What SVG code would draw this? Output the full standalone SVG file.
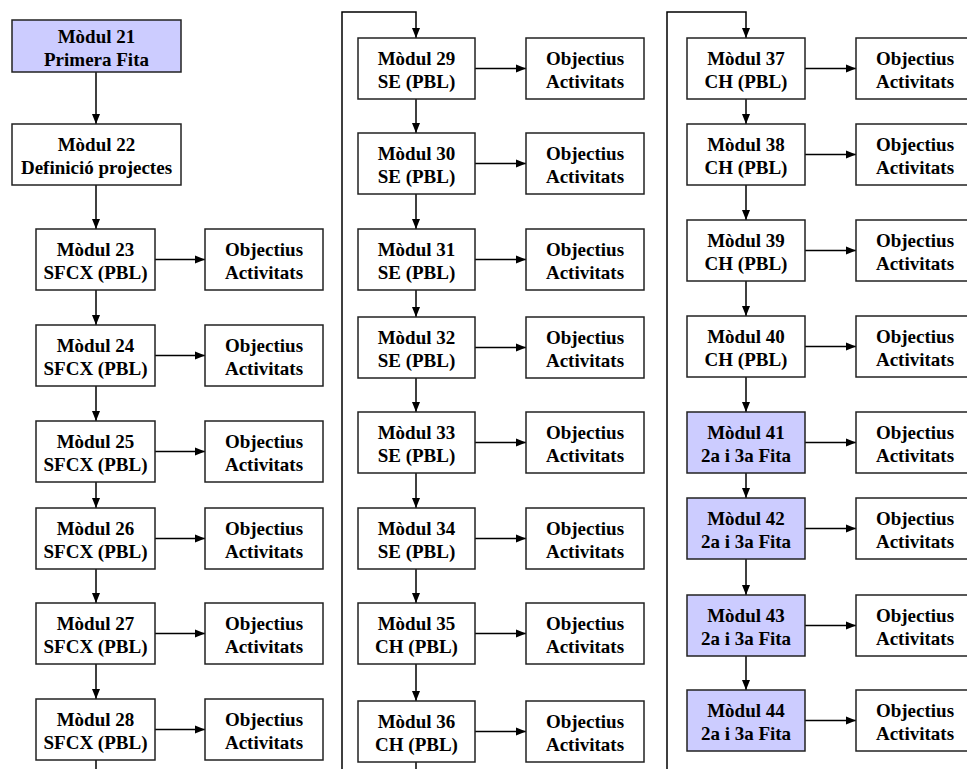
<svg xmlns="http://www.w3.org/2000/svg" width="967" height="769" viewBox="0 0 967 769">
<defs>
<style>
.box{fill:#fff;stroke:#222;stroke-width:1.5}
.fita{fill:#ccccff;stroke:#222;stroke-width:1.5}
.t{font-family:"Liberation Serif","Times New Roman",serif;font-weight:bold;font-size:19px;text-anchor:middle;fill:#000}
.c{fill:none;stroke:#000;stroke-width:1.5}
.a{marker-end:url(#arr)}
</style>
<marker id="arr" markerUnits="userSpaceOnUse" markerWidth="10" markerHeight="10" refX="10" refY="5" orient="auto">
<path d="M0,1 L10,5 L0,9 z" fill="#000"/>
</marker>
</defs>
<rect width="967" height="769" fill="#fff"/>
<g id="connectors">
<path class="c a" d="M96,72 V124"/>
<path class="c a" d="M96,185 V229"/>
<path class="c a" d="M96,290 V325"/>
<path class="c a" d="M96,386 V421"/>
<path class="c a" d="M96,482 V508"/>
<path class="c a" d="M96,569 V603"/>
<path class="c a" d="M96,664 V699"/>
<path class="c" d="M96,760 V769"/>
<path class="c a" d="M155,259.5 H205"/>
<path class="c a" d="M155,355.5 H205"/>
<path class="c a" d="M155,451.5 H205"/>
<path class="c a" d="M155,538.5 H205"/>
<path class="c a" d="M155,633.5 H205"/>
<path class="c a" d="M155,729.5 H205"/>
<path class="c a" d="M342,769 V12 H416 V38"/>
<path class="c a" d="M416,99 V133"/>
<path class="c a" d="M416,194 V229"/>
<path class="c a" d="M416,290 V317"/>
<path class="c a" d="M416,378 V412"/>
<path class="c a" d="M416,473 V508"/>
<path class="c a" d="M416,569 V603"/>
<path class="c a" d="M416,664 V701"/>
<path class="c" d="M416,762 V769"/>
<path class="c a" d="M475,68.5 H526"/>
<path class="c a" d="M475,163.5 H526"/>
<path class="c a" d="M475,259.5 H526"/>
<path class="c a" d="M475,347.5 H526"/>
<path class="c a" d="M475,442.5 H526"/>
<path class="c a" d="M475,538.5 H526"/>
<path class="c a" d="M475,633.5 H526"/>
<path class="c a" d="M475,731.5 H526"/>
<path class="c a" d="M667,769 V12 H746 V38"/>
<path class="c a" d="M746,99 V124"/>
<path class="c a" d="M746,185 V220"/>
<path class="c a" d="M746,281 V316"/>
<path class="c a" d="M746,377 V412"/>
<path class="c a" d="M746,473 V498"/>
<path class="c a" d="M746,559 V595"/>
<path class="c a" d="M746,656 V690"/>
<path class="c a" d="M805,68.5 H856"/>
<path class="c a" d="M805,154.5 H856"/>
<path class="c a" d="M805,250.5 H856"/>
<path class="c a" d="M805,346.5 H856"/>
<path class="c a" d="M805,442.5 H856"/>
<path class="c a" d="M805,528.5 H856"/>
<path class="c a" d="M805,625.5 H856"/>
<path class="c a" d="M805,720.5 H856"/>
</g>
<g id="m21"><rect class="fita" x="12" y="20" width="169" height="52"/><text class="t" x="96.5" y="43">Mòdul 21</text><text class="t" x="96.5" y="66">Primera Fita</text></g>
<g id="m22"><rect class="box" x="12" y="124" width="169" height="61"/><text class="t" x="96.5" y="151">Mòdul 22</text><text class="t" x="96.5" y="174">Definició projectes</text></g>
<g id="m23"><rect class="box" x="36" y="229" width="119" height="61"/><text class="t" x="95.5" y="255.5">Mòdul 23</text><text class="t" x="95.5" y="278.5">SFCX (PBL)</text></g>
<g id="o23"><rect class="box" x="205" y="229" width="118" height="61"/><text class="t" x="264" y="255.5">Objectius</text><text class="t" x="264" y="278.5">Activitats</text></g>
<g id="m24"><rect class="box" x="36" y="325" width="119" height="61"/><text class="t" x="95.5" y="351.5">Mòdul 24</text><text class="t" x="95.5" y="374.5">SFCX (PBL)</text></g>
<g id="o24"><rect class="box" x="205" y="325" width="118" height="61"/><text class="t" x="264" y="351.5">Objectius</text><text class="t" x="264" y="374.5">Activitats</text></g>
<g id="m25"><rect class="box" x="36" y="421" width="119" height="61"/><text class="t" x="95.5" y="447.5">Mòdul 25</text><text class="t" x="95.5" y="470.5">SFCX (PBL)</text></g>
<g id="o25"><rect class="box" x="205" y="421" width="118" height="61"/><text class="t" x="264" y="447.5">Objectius</text><text class="t" x="264" y="470.5">Activitats</text></g>
<g id="m26"><rect class="box" x="36" y="508" width="119" height="61"/><text class="t" x="95.5" y="534.5">Mòdul 26</text><text class="t" x="95.5" y="557.5">SFCX (PBL)</text></g>
<g id="o26"><rect class="box" x="205" y="508" width="118" height="61"/><text class="t" x="264" y="534.5">Objectius</text><text class="t" x="264" y="557.5">Activitats</text></g>
<g id="m27"><rect class="box" x="36" y="603" width="119" height="61"/><text class="t" x="95.5" y="629.5">Mòdul 27</text><text class="t" x="95.5" y="652.5">SFCX (PBL)</text></g>
<g id="o27"><rect class="box" x="205" y="603" width="118" height="61"/><text class="t" x="264" y="629.5">Objectius</text><text class="t" x="264" y="652.5">Activitats</text></g>
<g id="m28"><rect class="box" x="36" y="699" width="119" height="61"/><text class="t" x="95.5" y="725.5">Mòdul 28</text><text class="t" x="95.5" y="748.5">SFCX (PBL)</text></g>
<g id="o28"><rect class="box" x="205" y="699" width="118" height="61"/><text class="t" x="264" y="725.5">Objectius</text><text class="t" x="264" y="748.5">Activitats</text></g>
<g id="m29"><rect class="box" x="358" y="38" width="117" height="61"/><text class="t" x="416.5" y="64.5">Mòdul 29</text><text class="t" x="416.5" y="87.5">SE (PBL)</text></g>
<g id="o29"><rect class="box" x="526" y="38" width="118" height="61"/><text class="t" x="585" y="64.5">Objectius</text><text class="t" x="585" y="87.5">Activitats</text></g>
<g id="m30"><rect class="box" x="358" y="133" width="117" height="61"/><text class="t" x="416.5" y="159.5">Mòdul 30</text><text class="t" x="416.5" y="182.5">SE (PBL)</text></g>
<g id="o30"><rect class="box" x="526" y="133" width="118" height="61"/><text class="t" x="585" y="159.5">Objectius</text><text class="t" x="585" y="182.5">Activitats</text></g>
<g id="m31"><rect class="box" x="358" y="229" width="117" height="61"/><text class="t" x="416.5" y="255.5">Mòdul 31</text><text class="t" x="416.5" y="278.5">SE (PBL)</text></g>
<g id="o31"><rect class="box" x="526" y="229" width="118" height="61"/><text class="t" x="585" y="255.5">Objectius</text><text class="t" x="585" y="278.5">Activitats</text></g>
<g id="m32"><rect class="box" x="358" y="317" width="117" height="61"/><text class="t" x="416.5" y="343.5">Mòdul 32</text><text class="t" x="416.5" y="366.5">SE (PBL)</text></g>
<g id="o32"><rect class="box" x="526" y="317" width="118" height="61"/><text class="t" x="585" y="343.5">Objectius</text><text class="t" x="585" y="366.5">Activitats</text></g>
<g id="m33"><rect class="box" x="358" y="412" width="117" height="61"/><text class="t" x="416.5" y="438.5">Mòdul 33</text><text class="t" x="416.5" y="461.5">SE (PBL)</text></g>
<g id="o33"><rect class="box" x="526" y="412" width="118" height="61"/><text class="t" x="585" y="438.5">Objectius</text><text class="t" x="585" y="461.5">Activitats</text></g>
<g id="m34"><rect class="box" x="358" y="508" width="117" height="61"/><text class="t" x="416.5" y="534.5">Mòdul 34</text><text class="t" x="416.5" y="557.5">SE (PBL)</text></g>
<g id="o34"><rect class="box" x="526" y="508" width="118" height="61"/><text class="t" x="585" y="534.5">Objectius</text><text class="t" x="585" y="557.5">Activitats</text></g>
<g id="m35"><rect class="box" x="358" y="603" width="117" height="61"/><text class="t" x="416.5" y="629.5">Mòdul 35</text><text class="t" x="416.5" y="652.5">CH (PBL)</text></g>
<g id="o35"><rect class="box" x="526" y="603" width="118" height="61"/><text class="t" x="585" y="629.5">Objectius</text><text class="t" x="585" y="652.5">Activitats</text></g>
<g id="m36"><rect class="box" x="358" y="701" width="117" height="61"/><text class="t" x="416.5" y="727.5">Mòdul 36</text><text class="t" x="416.5" y="750.5">CH (PBL)</text></g>
<g id="o36"><rect class="box" x="526" y="701" width="118" height="61"/><text class="t" x="585" y="727.5">Objectius</text><text class="t" x="585" y="750.5">Activitats</text></g>
<g id="m37"><rect class="box" x="687" y="38" width="118" height="61"/><text class="t" x="746" y="64.5">Mòdul 37</text><text class="t" x="746" y="87.5">CH (PBL)</text></g>
<g id="o37"><rect class="box" x="856" y="38" width="118" height="61"/><text class="t" x="915" y="64.5">Objectius</text><text class="t" x="915" y="87.5">Activitats</text></g>
<g id="m38"><rect class="box" x="687" y="124" width="118" height="61"/><text class="t" x="746" y="150.5">Mòdul 38</text><text class="t" x="746" y="173.5">CH (PBL)</text></g>
<g id="o38"><rect class="box" x="856" y="124" width="118" height="61"/><text class="t" x="915" y="150.5">Objectius</text><text class="t" x="915" y="173.5">Activitats</text></g>
<g id="m39"><rect class="box" x="687" y="220" width="118" height="61"/><text class="t" x="746" y="246.5">Mòdul 39</text><text class="t" x="746" y="269.5">CH (PBL)</text></g>
<g id="o39"><rect class="box" x="856" y="220" width="118" height="61"/><text class="t" x="915" y="246.5">Objectius</text><text class="t" x="915" y="269.5">Activitats</text></g>
<g id="m40"><rect class="box" x="687" y="316" width="118" height="61"/><text class="t" x="746" y="342.5">Mòdul 40</text><text class="t" x="746" y="365.5">CH (PBL)</text></g>
<g id="o40"><rect class="box" x="856" y="316" width="118" height="61"/><text class="t" x="915" y="342.5">Objectius</text><text class="t" x="915" y="365.5">Activitats</text></g>
<g id="m41"><rect class="fita" x="687" y="412" width="118" height="61"/><text class="t" x="746" y="438.5">Mòdul 41</text><text class="t" x="746" y="461.5">2a i 3a Fita</text></g>
<g id="o41"><rect class="box" x="856" y="412" width="118" height="61"/><text class="t" x="915" y="438.5">Objectius</text><text class="t" x="915" y="461.5">Activitats</text></g>
<g id="m42"><rect class="fita" x="687" y="498" width="118" height="61"/><text class="t" x="746" y="524.5">Mòdul 42</text><text class="t" x="746" y="547.5">2a i 3a Fita</text></g>
<g id="o42"><rect class="box" x="856" y="498" width="118" height="61"/><text class="t" x="915" y="524.5">Objectius</text><text class="t" x="915" y="547.5">Activitats</text></g>
<g id="m43"><rect class="fita" x="687" y="595" width="118" height="61"/><text class="t" x="746" y="621.5">Mòdul 43</text><text class="t" x="746" y="644.5">2a i 3a Fita</text></g>
<g id="o43"><rect class="box" x="856" y="595" width="118" height="61"/><text class="t" x="915" y="621.5">Objectius</text><text class="t" x="915" y="644.5">Activitats</text></g>
<g id="m44"><rect class="fita" x="687" y="690" width="118" height="61"/><text class="t" x="746" y="716.5">Mòdul 44</text><text class="t" x="746" y="739.5">2a i 3a Fita</text></g>
<g id="o44"><rect class="box" x="856" y="690" width="118" height="61"/><text class="t" x="915" y="716.5">Objectius</text><text class="t" x="915" y="739.5">Activitats</text></g>
</svg>
